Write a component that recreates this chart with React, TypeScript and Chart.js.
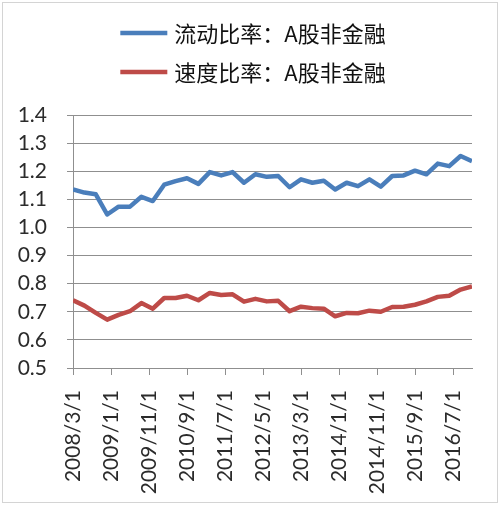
import React, { useEffect, useRef } from "react";
import { Chart, registerables } from "chart.js";

Chart.register(...registerables);

// Quarter-end dates (Excel date axis, base unit months)
const quarters: string[] = [
  "2008/3/1", "2008/6/1", "2008/9/1", "2008/12/1",
  "2009/3/1", "2009/6/1", "2009/9/1", "2009/12/1",
  "2010/3/1", "2010/6/1", "2010/9/1", "2010/12/1",
  "2011/3/1", "2011/6/1", "2011/9/1", "2011/12/1",
  "2012/3/1", "2012/6/1", "2012/9/1", "2012/12/1",
  "2013/3/1", "2013/6/1", "2013/9/1", "2013/12/1",
  "2014/3/1", "2014/6/1", "2014/9/1", "2014/12/1",
  "2015/3/1", "2015/6/1", "2015/9/1", "2015/12/1",
  "2016/3/1", "2016/6/1", "2016/9/1", "2016/12/1",
];

const currentRatio: number[] = [
  1.135, 1.124, 1.118, 1.046, 1.074, 1.074, 1.109, 1.094,
  1.152, 1.165, 1.175, 1.155, 1.197, 1.185, 1.197, 1.159,
  1.189, 1.180, 1.183, 1.143, 1.171, 1.159, 1.166, 1.135,
  1.159, 1.147, 1.171, 1.145, 1.183, 1.185, 1.202, 1.189,
  1.227, 1.218, 1.254, 1.236,
];

const quickRatio: number[] = [
  0.741, 0.722, 0.696, 0.672, 0.689, 0.702, 0.731, 0.711,
  0.749, 0.749, 0.757, 0.741, 0.767, 0.760, 0.762, 0.736,
  0.746, 0.737, 0.739, 0.702, 0.718, 0.713, 0.711, 0.684,
  0.696, 0.695, 0.704, 0.700, 0.717, 0.718, 0.725, 0.737,
  0.753, 0.757, 0.779, 0.790,
];

const seriesNames: string[] = ["流动比率：A股非金融", "速度比率：A股非金融"];

const xTickLabels: string[] = [
  "2008/3/1", "2009/1/1", "2009/11/1", "2010/9/1", "2011/7/1", "2012/5/1",
  "2013/3/1", "2014/1/1", "2014/11/1", "2015/9/1", "2016/7/1",
];

const yMin = 0.5;
const yMax = 1.4;
const yStep = 0.1;

const monthIndex = (s: string): number => {
  const [y, m] = s.split("/").map(Number);
  return (y - 2008) * 12 + (m - 3);
};

const GRID = "#8f8f8f";
const TEXT = "#2b2b2b";

const lineLegend = {
  id: "lineLegend",
  afterDraw(chart: any) {
    const ctx = chart.ctx as CanvasRenderingContext2D;
    ctx.save();
    ctx.font = '22px "Noto Sans CJK SC"';
    ctx.textBaseline = "middle";
    ctx.textAlign = "left";
    chart.data.datasets.forEach((ds: any, i: number) => {
      const y = 33 + i * 39;
      const lineLen = 47;
      const gap = 7;
      const tw = ctx.measureText(ds.label).width;
      const total = lineLen + gap + tw;
      const x0 = (chart.width - total) / 2 + 3;
      ctx.strokeStyle = ds.borderColor;
      ctx.lineWidth = 4.5;
      ctx.lineCap = "butt";
      ctx.beginPath();
      ctx.moveTo(x0, y);
      ctx.lineTo(x0 + lineLen, y);
      ctx.stroke();
      ctx.fillStyle = "#111";
      ctx.fillText(ds.label, x0 + lineLen + gap, y + 1);
    });
    ctx.restore();
  },
};

export default function App() {
  const ref = useRef<HTMLCanvasElement | null>(null);

  useEffect(() => {
    if (!ref.current) return;
    const toPoints = (vals: number[]) =>
      vals.map((v, i) => ({ x: monthIndex(quarters[i]), y: v }));
    const chart = new Chart(ref.current, {
      type: "line",
      data: {
        datasets: [
          {
            label: seriesNames[0],
            data: toPoints(currentRatio),
            borderColor: "#4A7EBB",
            backgroundColor: "#4A7EBB",
            borderWidth: 4.5,
            pointRadius: 0,
            tension: 0,
            borderJoinStyle: "round",
          },
          {
            label: seriesNames[1],
            data: toPoints(quickRatio),
            borderColor: "#BE4B48",
            backgroundColor: "#BE4B48",
            borderWidth: 4.5,
            pointRadius: 0,
            tension: 0,
            borderJoinStyle: "round",
          },
        ],
      },
      options: {
        responsive: false,
        animation: false,
        devicePixelRatio: 1,
        layout: { padding: { top: 115, left: 0, right: 28, bottom: 0 } },
        plugins: {
          legend: { display: false },
          tooltip: { enabled: false },
        },
        scales: {
          x: {
            type: "linear",
            min: monthIndex(quarters[0]),
            max: monthIndex(quarters[quarters.length - 1]),
            afterBuildTicks: (scale: any) => {
              scale.ticks = xTickLabels.map((l) => ({ value: monthIndex(l) }));
            },
            afterFit: (scale: any) => {
              scale.height = 137;
            },
            ticks: {
              autoSkip: false,
              minRotation: 90,
              maxRotation: 90,
              padding: 15,
              color: TEXT,
              font: { family: "Lato", size: 21 },
              callback: (v: any) => {
                const idx = xTickLabels.findIndex((l) => monthIndex(l) === v);
                return idx >= 0 ? xTickLabels[idx] : "";
              },
            },
            grid: {
              drawOnChartArea: false,
              drawTicks: true,
              tickLength: 7,
              color: GRID,
              lineWidth: 1,
            },
            border: { display: true, color: GRID, width: 1 },
          },
          y: {
            min: yMin,
            max: yMax,
            afterFit: (scale: any) => {
              scale.width = 73;
            },
            ticks: {
              stepSize: yStep,
              autoSkip: false,
              padding: 20,
              color: TEXT,
              font: { family: "Lato", size: 21 },
              callback: (v: any) => Number(v).toFixed(1),
            },
            grid: {
              drawTicks: true,
              tickLength: 6,
              color: GRID,
              lineWidth: 1,
            },
            border: { display: true, color: GRID, width: 1 },
          },
        },
      },
      plugins: [lineLegend],
    } as any);
    return () => chart.destroy();
  }, []);

  return (
    <div
      style={{
        position: "fixed",
        left: 0,
        top: 0,
        width: 500,
        height: 505,
        background: "#fff",
      }}
    >
      <canvas ref={ref} width={500} height={505} style={{ position: "absolute", left: 0, top: 0 }} />
      <div
        style={{
          position: "absolute",
          left: 2,
          top: 2,
          width: 494,
          height: 499,
          border: "1px solid #d4d4d4",
          pointerEvents: "none",
        }}
      />
    </div>
  );
}
